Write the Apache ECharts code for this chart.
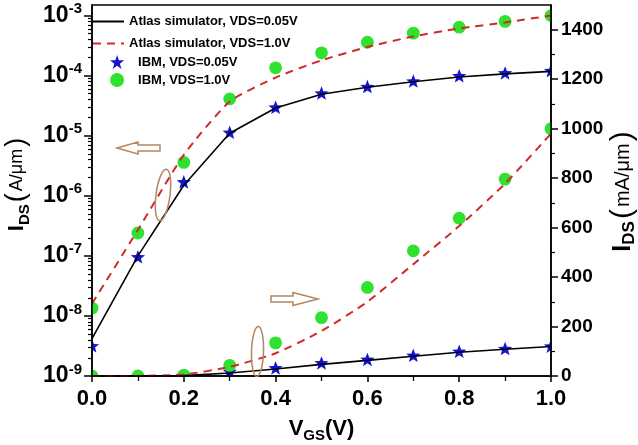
<!DOCTYPE html>
<html>
<head>
<meta charset="utf-8">
<script src="https://cdn.jsdelivr.net/npm/echarts@6/dist/echarts.min.js"></script>
<style>
  html, body { margin: 0; padding: 0; background: #fff; }
  #chart { width: 638px; height: 445px; }
</style>
</head>
<body>
<div id="chart"></div>
<script>
// Gate voltage sweep, V
const vgs = [0.0, 0.1, 0.2, 0.3, 0.4, 0.5, 0.6, 0.7, 0.8, 0.9, 1.0];

// Drain current on the log scale, A/μm
const atlas005Log = [4.2e-9, 1.0e-7, 1.5e-6, 1.1e-5, 2.9e-5, 4.9e-5, 6.4e-5, 7.9e-5, 9.5e-5, 1.07e-4, 1.18e-4];
const atlas10Log  = [1.6e-8, 2.7e-7, 4.8e-6, 3.7e-5, 9.3e-5, 1.8e-4, 3.0e-4, 4.5e-4, 6.1e-4, 7.7e-4, 1.0e-3];
const ibm005Log   = [3.1e-9, 9.4e-8, 1.66e-6, 1.11e-5, 2.9e-5, 5.0e-5, 6.4e-5, 7.9e-5, 9.7e-5, 1.08e-4, 1.18e-4];
const ibm10Log    = [1.35e-8, 2.4e-7, 3.6e-6, 4.1e-5, 1.35e-4, 2.4e-4, 3.6e-4, 5.1e-4, 6.4e-4, 8.0e-4, 1.0e-3];

// Drain current on the linear scale, mA/μm
const atlas005Lin = [0, 0, 1.7, 12, 28, 47, 63, 80, 96, 108, 119];
const atlas10Lin  = [0, 0.5, 6, 37, 92, 182, 300, 452, 606, 778, 980];
const ibm005Lin   = [null, null, null, 16, 30, 50, 64, 81, 97, 108, 118];
const ibm10Lin    = [0, 0, 3.6, 43, 134, 236, 358, 506, 638, 796, 1000];

// Axis ticks
const logMajorTicks = [1e-9, 1e-8, 1e-7, 1e-6, 1e-5, 1e-4, 1e-3];
const logMinorTicks = [];
for (let e = -9; e <= -4; e++) {
  for (let k = 2; k <= 9; k++) logMinorTicks.push(+(k * Math.pow(10, e)).toPrecision(3));
}
const linMajorTicks = [0, 200, 400, 600, 800, 1000, 1200, 1400];
const linMinorTicks = [100, 300, 500, 700, 900, 1100, 1300];

const NAME_005_SIM = 'Atlas simulator, VDS=0.05V';
const NAME_10_SIM  = 'Atlas simulator, VDS=1.0V';
const NAME_005_IBM = 'IBM, VDS=0.05V';
const NAME_10_IBM  = 'IBM, VDS=1.0V';

const FONT = '"Liberation Sans", Arial, sans-serif';
const BLUE = '#1414d2';
const GREEN = '#2fe22f';
const RED = '#d02a2a';
const BROWN = '#b5865f';
const STAR_PATH = 'path://M12,0 L14.8,8.6 L23.4,8.6 L16.5,13.9 L19.1,22.5 L12,17.2 L4.9,22.5 L7.5,13.9 L0.6,8.6 L9.2,8.6 Z';

function pairs(ys) {
  return vgs.map((x, i) => [x, ys[i]]).filter(d => d[1] !== null);
}

function starItem(params, api) {
  const p = api.coord([api.value(0), api.value(1)]);
  const pts = [];
  for (let i = 0; i < 10; i++) {
    const r = i % 2 ? 3.2 : 7.5;
    const a = -Math.PI / 2 + i * Math.PI / 5;
    pts.push([p[0] + r * Math.cos(a), p[1] + r * Math.sin(a)]);
  }
  return { type: 'polygon', shape: { points: pts }, style: { fill: BLUE } };
}

function dotItem(params, api) {
  const p = api.coord([api.value(0), api.value(1)]);
  return { type: 'circle', shape: { cx: p[0], cy: p[1], r: 6.4 }, style: { fill: GREEN } };
}

function lineSeries(name, ys, axis, color, dashed) {
  return {
    name, type: 'line', yAxisIndex: axis, data: pairs(ys),
    symbol: 'none', showSymbol: false, smooth: dashed ? 0.2 : false, clip: true,
    lineStyle: { color, width: dashed ? 2 : 1.6, type: dashed ? [8, 6] : 'solid' },
    itemStyle: { color }
  };
}

function markerSeries(name, ys, axis, render, color) {
  return {
    name, type: 'custom', yAxisIndex: axis, data: pairs(ys),
    encode: { x: 0, y: 1 }, renderItem: render, clip: true,
    itemStyle: { color }
  };
}

const axisLineStyle = { color: '#000', width: 1.5 };
const legendText = { color: '#000', fontWeight: 'bold', fontSize: 13, fontFamily: FONT };

const chart = echarts.init(document.getElementById('chart'));
chart.setOption({
  animation: false,
  backgroundColor: '#fff',
  textStyle: { fontFamily: FONT },
  grid: {
    left: 92, right: 87, top: 5, bottom: 69,
    show: true, borderColor: '#000', borderWidth: 1.5,
    containLabel: false, outerBoundsMode: 'none'
  },
  legend: [
    {
      data: [
        { name: NAME_005_SIM, itemStyle: { opacity: 0 } },
        { name: NAME_10_SIM, itemStyle: { opacity: 0 } }
      ],
      orient: 'vertical', left: 92, top: 15, padding: 0,
      itemWidth: 31, itemHeight: 14, itemGap: 9, selectedMode: false,
      textStyle: legendText
    },
    {
      data: [
        { name: NAME_005_IBM, icon: STAR_PATH, itemStyle: { color: BLUE } },
        { name: NAME_10_IBM, icon: 'circle', itemStyle: { color: GREEN } }
      ],
      // the legend box starts at the icon's own left edge
      orient: 'vertical', left: 110, top: 55, padding: 0,
      itemWidth: 32, itemHeight: 14, itemGap: 4, selectedMode: false,
      textStyle: legendText
    }
  ],
  xAxis: {
    type: 'value', min: 0, max: 1, interval: 0.2, position: 'bottom', z: 5,
    axisLine: { onZero: false, lineStyle: axisLineStyle },
    axisTick: { length: 6, lineStyle: { color: '#000', width: 1.5 } },
    minorTick: { show: true, splitNumber: 2, length: 5, lineStyle: { color: '#000', width: 1.3 } },
    splitLine: { show: false },
    axisLabel: {
      formatter: v => v.toFixed(1), margin: 12, color: '#000',
      fontSize: 22, fontWeight: 'bold', fontFamily: FONT
    },
    name: '{v|V}{s|GS}{v|(V)}', nameLocation: 'middle', nameGap: 39, nameMoveOverlap: false,
    nameTextStyle: {
      rich: {
        v: { fontSize: 22, fontWeight: 'bold', color: '#000', lineHeight: 28, fontFamily: FONT },
        s: { fontSize: 15, fontWeight: 'bold', color: '#000', lineHeight: 16, verticalAlign: 'bottom', fontFamily: FONT }
      }
    }
  },
  yAxis: [
    {
      type: 'log', logBase: 10, min: 1e-9, max: 1.5e-3, position: 'left', z: 5,
      axisLine: { onZero: false, lineStyle: axisLineStyle },
      axisTick: { length: 8, customValues: logMajorTicks, lineStyle: { color: '#000', width: 1.5 } },
      splitLine: { show: false },
      axisLabel: {
        customValues: logMajorTicks, margin: 10,
        formatter: v => '{b|10}{e|' + Math.round(Math.log10(v)) + '}',
        rich: {
          b: { fontSize: 23, fontWeight: 'bold', color: '#000', lineHeight: 28, fontFamily: FONT },
          e: { fontSize: 15, fontWeight: 'bold', color: '#000', lineHeight: 14, verticalAlign: 'top', fontFamily: FONT }
        }
      },
      name: '{i|I}{s|DS}{p|(}{u|A/μm}{p|)}', nameLocation: 'middle', nameRotate: 90,
      nameGap: 60, nameMoveOverlap: false,
      nameTextStyle: {
        padding: [0, 0, 0, 14],
        rich: {
          i: { fontSize: 22, fontWeight: 'bold', color: '#000', lineHeight: 30, fontFamily: FONT },
          s: { fontSize: 15, fontWeight: 'bold', color: '#000', lineHeight: 20, verticalAlign: 'bottom', fontFamily: FONT },
          p: { fontSize: 27, color: '#000', lineHeight: 30, fontFamily: FONT, padding: [0, 2] },
          u: { fontSize: 18, color: '#000', lineHeight: 30, fontFamily: FONT }
        }
      }
    },
    {
      type: 'value', min: 0, max: 1500, position: 'right', z: 5,
      axisLine: { onZero: false, lineStyle: axisLineStyle },
      axisTick: { length: 7, customValues: linMajorTicks, lineStyle: { color: '#000', width: 1.5 } },
      splitLine: { show: false },
      axisLabel: {
        customValues: linMajorTicks, margin: 10, color: '#000',
        formatter: v => String(v),
        fontSize: 19, fontWeight: 'bold', fontFamily: FONT
      },
      name: '{i|I}{s|DS}{p|(}{u|mA/μm}{p|)}', nameLocation: 'middle', nameRotate: 90,
      nameGap: 57, nameMoveOverlap: false,
      nameTextStyle: {
        rich: {
          i: { fontSize: 25, fontWeight: 'bold', color: '#000', lineHeight: 30, fontFamily: FONT },
          s: { fontSize: 17, fontWeight: 'bold', color: '#000', lineHeight: 22, verticalAlign: 'bottom', fontFamily: FONT },
          p: { fontSize: 30, color: '#000', lineHeight: 30, fontFamily: FONT, padding: [0, 2] },
          u: { fontSize: 20, color: '#000', lineHeight: 30, fontFamily: FONT }
        }
      }
    },
    {
      type: 'log', logBase: 10, min: 1e-9, max: 1.5e-3, position: 'left', z: 5,
      axisLine: { show: false, onZero: false },
      axisTick: { length: 4, customValues: logMinorTicks, lineStyle: { color: '#000', width: 1.2 } },
      axisLabel: { show: false }, splitLine: { show: false }
    },
    {
      type: 'value', min: 0, max: 1500, position: 'right', z: 5,
      axisLine: { show: false, onZero: false },
      axisTick: { length: 4, customValues: linMinorTicks, lineStyle: { color: '#000', width: 1.2 } },
      axisLabel: { show: false }, splitLine: { show: false }
    }
  ],
  series: [
    lineSeries(NAME_005_SIM, atlas005Log, 0, '#000', false),
    lineSeries(NAME_005_SIM, atlas005Lin, 1, '#000', false),
    lineSeries(NAME_10_SIM, atlas10Log, 0, RED, true),
    lineSeries(NAME_10_SIM, atlas10Lin, 1, RED, true),
    markerSeries(NAME_005_IBM, ibm005Log, 0, starItem, BLUE),
    markerSeries(NAME_005_IBM, ibm005Lin, 1, starItem, BLUE),
    markerSeries(NAME_10_IBM, ibm10Log, 0, dotItem, GREEN),
    markerSeries(NAME_10_IBM, ibm10Lin, 1, dotItem, GREEN)
  ],
  graphic: [
    // arrow pointing to the log-scale (left) axis
    {
      type: 'polygon', z: 10,
      shape: { points: [[117, 148], [138, 142], [138, 145], [160, 145], [160, 151], [138, 151], [138, 154]] },
      style: { fill: 'none', stroke: BROWN, lineWidth: 1.5 }
    },
    { type: 'ellipse', z: 10, x: 163, y: 195, rotation: -0.13,
      shape: { cx: 0, cy: 0, rx: 7, ry: 26 }, style: { fill: 'none', stroke: BROWN, lineWidth: 1.5 } },
    // arrow pointing to the linear (right) axis
    {
      type: 'polygon', z: 10,
      shape: { points: [[271, 296], [293, 296], [293, 292.5], [318, 299], [293, 305.5], [293, 302], [271, 302]] },
      style: { fill: 'none', stroke: BROWN, lineWidth: 1.5 }
    },
    { type: 'ellipse', z: 10, x: 257.5, y: 351.5, rotation: -0.03,
      shape: { cx: 0, cy: 0, rx: 6, ry: 25 }, style: { fill: 'none', stroke: BROWN, lineWidth: 1.5 } }
  ]
});
</script>
</body>
</html>
